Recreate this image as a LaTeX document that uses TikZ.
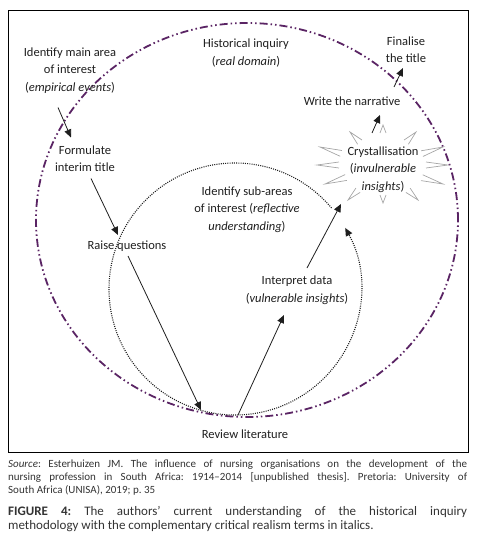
\documentclass[tikz,border=0pt]{standalone}
\usepackage{fontspec}
\setmainfont{Carlito}
\usetikzlibrary{arrows.meta,calc}
\definecolor{ink}{HTML}{1E1E1E}
\definecolor{capink}{HTML}{333333}
\definecolor{plum}{HTML}{5A2464}
\definecolor{spikegrey}{HTML}{A6A6A6}
\tikzset{
 lbl/.style={align=center, inner sep=0pt, text=ink, font=\fontsize{12.5}{17.5}\selectfont},
 arr/.style={draw=ink, line width=0.8pt, -{Triangle[length=8pt,width=7pt]}},
 outerring/.style={draw=plum, line width=1.8pt, dash pattern=on 8pt off 3pt on 1.5pt off 3pt on 1.5pt off 3pt},
 innerring/.style={draw=ink, line width=1.1pt, dash pattern=on 1pt off 1.2pt, -{Triangle[length=8pt,width=7pt]}},
 spike/.style={draw=spikegrey, line width=0.7pt},
 captext/.style={anchor=north west, inner sep=0pt, text width=459pt, align=justify, text=capink},
}
\begin{document}
\begin{tikzpicture}[x=1pt,y=1pt]
\useasboundingbox (0,0) rectangle (487,-546);
\draw[line width=0.9pt] (8,-10) rectangle (468,-452);

% rings
\draw[outerring] (247,-220) ellipse[x radius=211, y radius=197];
\draw[innerring] (235,-289) ++(40:126) arc[start angle=40, end angle=389, radius=126];

% starburst spikes
\draw[spike] (380,-133) -- (383,-125) -- (386,-133);
\draw[spike] (357.6,-144.2) -- (350,-132) -- (362.0,-140.0);
\draw[spike] (408.4,-144.2) -- (416,-132) -- (404.0,-140.0);
\draw[spike] (340.2,-156.3) -- (320,-147) -- (341.9,-150.5);
\draw[spike] (422.9,-156.5) -- (443,-147) -- (421.1,-150.8);
\draw[spike] (339,-162) -- (317,-165) -- (339,-168);
\draw[spike] (426,-162) -- (448,-165) -- (426,-168);
\draw[spike] (346.9,-180.4) -- (325,-184) -- (345.1,-174.6);
\draw[spike] (421.0,-180.6) -- (443,-184) -- (422.8,-174.8);
\draw[spike] (360.1,-192.4) -- (348,-200) -- (355.9,-188.1);
\draw[spike] (410.1,-188.1) -- (418,-200) -- (405.9,-192.4);
\draw[spike] (380,-195) -- (383,-203) -- (386,-195);

% labels
\node[lbl] (main) at (70,-70.5) {Identify main area\\of interest\\(\textit{empirical events})};
\node[lbl] (hist) at (246,-53) {Historical inquiry\\(\textit{real domain})};
\node[lbl] (fin) at (406,-49.5) {Finalise\\the title};
\node[lbl] (narr) at (352,-101) {Write the narrative};
\node[lbl] (cryst) at (383,-169.5) {Crystallisation\\(\textit{invulnerable}\\\textit{insights})};
\node[lbl] (form) at (85,-158.5) {Formulate\\interim title};
\node[lbl] (sub) at (247,-209.5) {Identify sub-areas\\of interest (\textit{reflective}\\\textit{understanding})};
\node[lbl] (raise) at (127,-246) {Raise questions};
\node[lbl] (interp) at (297,-290) {Interpret data\\(\textit{vulnerable insights})};
\node[lbl] (review) at (245,-434) {Review literature};

% connectors
\draw[arr] ([shift={(-12,-37)}]main.center) -- ([shift={(-14,21)}]form.center);
\draw[arr] ([shift={(6,-20)}]form.center) -- ([shift={(-9,11)}]raise.center);
\draw[arr] ([shift={(1,-10)}]raise.center) -- ([shift={(-44,24)}]review.center);
\draw[arr] ([shift={(-7,19)}]review.center) -- ([shift={(-13,-25)}]interp.center);
\draw[arr] ([shift={(10,22)}]interp.center) -- ([shift={(-42,-34.5)}]cryst.center);
\draw[arr] ([shift={(-11,36.5)}]cryst.center) -- ([shift={(28,-14)}]narr.center);
\draw[arr] ([shift={(42,14)}]narr.center) -- ([shift={(-3,-18.5)}]fin.center);

% caption
\node[captext, font=\fontsize{11}{13}\selectfont] (src) at (8,-460) {\frenchspacing\hyphenpenalty=10000\noindent\textit{Source}: Esterhuizen JM. The influence of nursing organisations on the development of the\linebreak nursing profession in South Africa: 1914–2014 [unpublished thesis]. Pretoria: University of\linebreak South Africa (UNISA), 2019; p. 35};
\node[captext, font=\fontsize{13}{14.6}\selectfont] (cap) at (8,-506) {\frenchspacing\hyphenpenalty=10000\noindent\textbf{FIGURE 4:} The authors’ current understanding of the historical inquiry\linebreak methodology with the complementary critical realism terms in italics.};
\end{tikzpicture}
\end{document}
